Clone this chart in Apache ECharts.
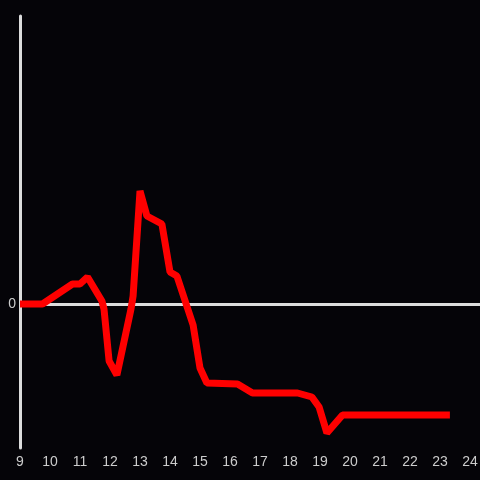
<!DOCTYPE html>
<html>
<head>
<meta charset="utf-8">
<script src="https://cdn.jsdelivr.net/npm/echarts@6/dist/echarts.min.js"></script>
<style>
  html, body { margin: 0; padding: 0; background: #050408; }
  #chart { width: 480px; height: 480px; }
</style>
</head>
<body>
<div id="chart"></div>
<script>
// hours of day, and the change
const times = [9.0, 9.75, 10.75, 11.0, 11.25, 11.73, 11.8, 11.97, 12.23, 12.7, 12.77, 13.0, 13.23, 13.73, 14.0, 14.23, 14.77, 15.0, 15.23, 16.25, 16.75, 18.25, 18.73, 18.97, 19.23, 19.75, 23.33];
const values = [0, 0, 0.20, 0.20, 0.27, 0.03, -0.05, -0.57, -0.71, -0.05, 0.08, 1.13, 0.88, 0.80, 0.32, 0.28, -0.21, -0.64, -0.79, -0.80, -0.89, -0.89, -0.93, -1.03, -1.29, -1.11, -1.11];
const xTicks = [9, 10, 11, 12, 13, 14, 15, 16, 17, 18, 19, 20, 21, 22, 23, 24];

const chart = echarts.init(document.getElementById("chart"), null, { renderer: "canvas" });
const axisColor = "#dcdcdc";
const labelColor = "#cccccc";

chart.setOption({
  backgroundColor: "#050408",
  animation: false,
  grid: { left: 20, right: 0, top: 16, bottom: 32, outerBoundsMode: "none", containLabel: false },
  xAxis: {
    type: "value",
    min: 9,
    max: 9 + 460 / 30,
    interval: 1,
    axisLine: { show: false },
    axisTick: { show: false },
    splitLine: { show: false },
    axisLabel: {
      color: labelColor,
      fontFamily: "Liberation Sans",
      fontSize: 14,
      margin: 7,
      formatter: (v) => (xTicks.includes(v) ? String(v) : ""),
    },
  },
  yAxis: {
    type: "value",
    min: -1.44,
    max: 2.88,
    axisLine: { show: true, onZero: false, lineStyle: { color: axisColor, width: 3 } },
    axisTick: { show: false },
    splitLine: { show: false },
    axisLabel: {
      color: labelColor,
      fontFamily: "Liberation Sans",
      fontSize: 14,
      margin: 4,
      formatter: (v) => (v === 0 ? "0" : ""),
    },
  },
  series: [
    {
      type: "line",
      z: 10,
      data: times.map((t, i) => [t, values[i]]),
      showSymbol: false,
      lineStyle: { color: "#ff0000", width: 7 },
      markLine: {
        silent: true,
        symbol: ["none", "none"],
        label: { show: false },
        lineStyle: { color: axisColor, width: 3, type: "solid" },
        data: [{ yAxis: 0 }],
      },
    },
  ],
});
</script>
</body>
</html>
